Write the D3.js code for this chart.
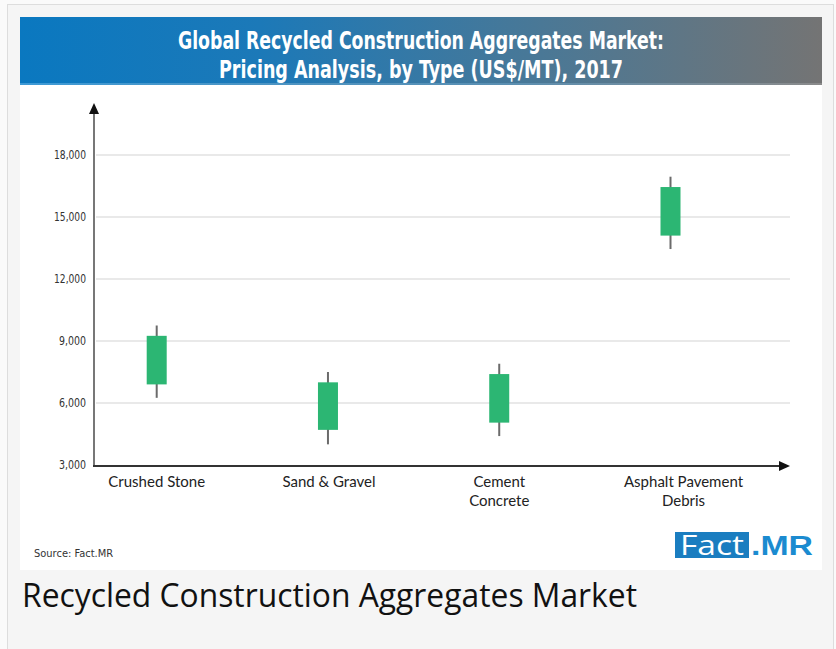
<!DOCTYPE html>
<html>
<head>
<meta charset="utf-8">
<script src="https://cdn.jsdelivr.net/npm/d3@7"></script>
<style>
  html, body { margin: 0; padding: 0; background: #fff; }
  svg { display: block; }
</style>
</head>
<body>
<svg id="chart" width="836" height="649"></svg>
<script>
// ---- data ----
const categories = ["Crushed Stone", "Sand & Gravel", "Cement Concrete", "Asphalt Pavement Debris"];
const categoryLabelLines = [["Crushed Stone"], ["Sand & Gravel"], ["Cement", "Concrete"], ["Asphalt Pavement", "Debris"]];
const lowValues   = [6250, 4000, 4400, 13450];
const openValues  = [6900, 4700, 5050, 14100];
const closeValues = [9250, 7000, 7400, 16450];
const highValues  = [9750, 7500, 7900, 16950];
const yTickValues = [3000, 6000, 9000, 12000, 15000, 18000];
const titleLines = ["Global Recycled Construction Aggregates Market:", "Pricing Analysis, by Type (US$/MT), 2017"];
const sourceText = "Source: Fact.MR";
const captionText = "Recycled Construction Aggregates Market";

const svg = d3.select("#chart");

// page frame
svg.append("rect").attr("x", 0).attr("y", 0).attr("width", 836).attr("height", 649).attr("fill", "#fafafa");
svg.append("rect").attr("x", 7.5).attr("y", 4.5).attr("width", 826).attr("height", 660)
  .attr("fill", "#f5f5f5").attr("stroke", "#dddddd").attr("stroke-width", 1);
svg.append("rect").attr("x", 20).attr("y", 17).attr("width", 802).attr("height", 553).attr("fill", "#ffffff");

// title banner
const defs = svg.append("defs");
const grad = defs.append("linearGradient").attr("id", "tg").attr("x1", "0%").attr("x2", "100%");
grad.append("stop").attr("offset", "0%").attr("stop-color", "#0a78c0");
grad.append("stop").attr("offset", "30%").attr("stop-color", "#1c79b8");
grad.append("stop").attr("offset", "65%").attr("stop-color", "#4a7896");
grad.append("stop").attr("offset", "100%").attr("stop-color", "#747474");
svg.append("rect").attr("x", 20).attr("y", 17).attr("width", 802).attr("height", 68).attr("fill", "url(#tg)");
const grad2 = defs.append("linearGradient").attr("id", "tg2").attr("x1", "0%").attr("x2", "100%");
grad2.append("stop").attr("offset", "0%").attr("stop-color", "#3d9ad6");
grad2.append("stop").attr("offset", "60%").attr("stop-color", "#5a8fb2");
grad2.append("stop").attr("offset", "100%").attr("stop-color", "#8a8a8a");
svg.append("rect").attr("x", 20).attr("y", 83).attr("width", 802).attr("height", 2).attr("fill", "url(#tg2)");

const titleY = [49, 78];
const titleW = [486, 404];
titleLines.forEach((t, i) => {
  svg.append("text").attr("x", 421).attr("y", titleY[i])
    .attr("text-anchor", "middle")
    .attr("font-family", "'Liberation Sans Narrow', 'DejaVu Sans Condensed', sans-serif")
    .attr("font-weight", "bold").attr("font-size", 25)
    .attr("fill", "#ffffff")
    .attr("textLength", titleW[i]).attr("lengthAdjust", "spacingAndGlyphs")
    .text(t);
});

// scales
const y = d3.scaleLinear().domain([3000, 18000]).range([465, 155]);
const x = d3.scalePoint().domain(categories).range([156.7, 670.5]);
const xLeft = 94, xRight = 790, yTopArrow = 103;

// gridlines
svg.append("g").selectAll("line").data(yTickValues.filter(v => v > 3000)).join("line")
  .attr("x1", xLeft + 2).attr("x2", xRight)
  .attr("y1", d => y(d)).attr("y2", d => y(d))
  .attr("stroke", "#e2e2e2").attr("stroke-width", 1.6);

// y axis
const yAxis = d3.axisLeft(y).tickValues(yTickValues).tickSize(0).tickPadding(8)
  .tickFormat(d3.format(","));
const gy = svg.append("g").attr("transform", `translate(${xLeft},0)`).call(yAxis);
gy.select(".domain").remove();
gy.selectAll("text")
  .attr("font-family", "'Liberation Sans Narrow', 'DejaVu Sans Condensed', sans-serif")
  .attr("font-size", 12).attr("fill", "#333")
  .attr("textLength", d => d >= 10000 ? 32 : 27).attr("lengthAdjust", "spacingAndGlyphs");
svg.append("line").attr("x1", xLeft).attr("x2", xLeft).attr("y1", 466).attr("y2", yTopArrow + 8)
  .attr("stroke", "#777").attr("stroke-width", 2);
svg.append("path").attr("d", `M${xLeft},${yTopArrow} L${xLeft - 5},${yTopArrow + 11} L${xLeft + 5},${yTopArrow + 11} Z`)
  .attr("fill", "#111");

// x axis
svg.append("line").attr("x1", xLeft - 1).attr("x2", xRight - 8).attr("y1", 466).attr("y2", 466)
  .attr("stroke", "#333").attr("stroke-width", 2);
svg.append("path").attr("d", `M${xRight},466 L${xRight - 11},461 L${xRight - 11},471 Z`).attr("fill", "#111");

const labelDx = [0, 1, 0, 13];
categoryLabelLines.forEach((lines, i) => {
  const t = svg.append("text")
    .attr("text-anchor", "middle")
    .attr("font-family", "Lato, 'Liberation Sans', sans-serif")
    .attr("font-size", 15).attr("fill", "#222");
  lines.forEach((ln, j) => {
    t.append("tspan").attr("x", x(categories[i]) + labelDx[i]).attr("y", 487 + j * 19).text(ln);
  });
});

// candles
const data = categories.map((c, i) => ({ c, low: lowValues[i], open: openValues[i], close: closeValues[i], high: highValues[i] }));
const boxW = 20;
const g = svg.append("g");
g.selectAll("line.wick").data(data).join("line").attr("class", "wick")
  .attr("x1", d => x(d.c)).attr("x2", d => x(d.c))
  .attr("y1", d => y(d.high)).attr("y2", d => y(d.low))
  .attr("stroke", "#6b6b6b").attr("stroke-width", 2);
g.selectAll("rect.box").data(data).join("rect").attr("class", "box")
  .attr("x", d => x(d.c) - boxW / 2).attr("width", boxW)
  .attr("y", d => y(Math.max(d.open, d.close)))
  .attr("height", d => Math.abs(y(d.open) - y(d.close)))
  .attr("fill", "#2cb673");

// source
svg.append("text").attr("x", 34).attr("y", 557)
  .attr("font-family", "'Liberation Sans Narrow', 'DejaVu Sans Condensed', sans-serif")
  .attr("font-size", 11).attr("fill", "#333").text(sourceText);

// logo
svg.append("rect").attr("x", 675).attr("y", 532).attr("width", 74).attr("height", 26).attr("fill", "#1a7dc0");
svg.append("text").attr("x", 712).attr("y", 555).attr("text-anchor", "middle")
  .attr("font-family", "'Open Sans', sans-serif").attr("font-size", 27).attr("fill", "#fff")
  .attr("textLength", 64).attr("lengthAdjust", "spacingAndGlyphs").text("Fact");
svg.append("text").attr("x", 751).attr("y", 555)
  .attr("font-family", "'Liberation Sans', sans-serif").attr("font-weight", "bold").attr("font-size", 27).attr("fill", "#1b8bd0")
  .attr("textLength", 62).attr("lengthAdjust", "spacingAndGlyphs").text(".MR");

// caption
svg.append("text").attr("x", 22).attr("y", 607)
  .attr("font-family", "'Open Sans', sans-serif").attr("font-size", 32).attr("fill", "#111")
  .attr("textLength", 615).attr("lengthAdjust", "spacingAndGlyphs").text(captionText);
</script>
</body>
</html>
